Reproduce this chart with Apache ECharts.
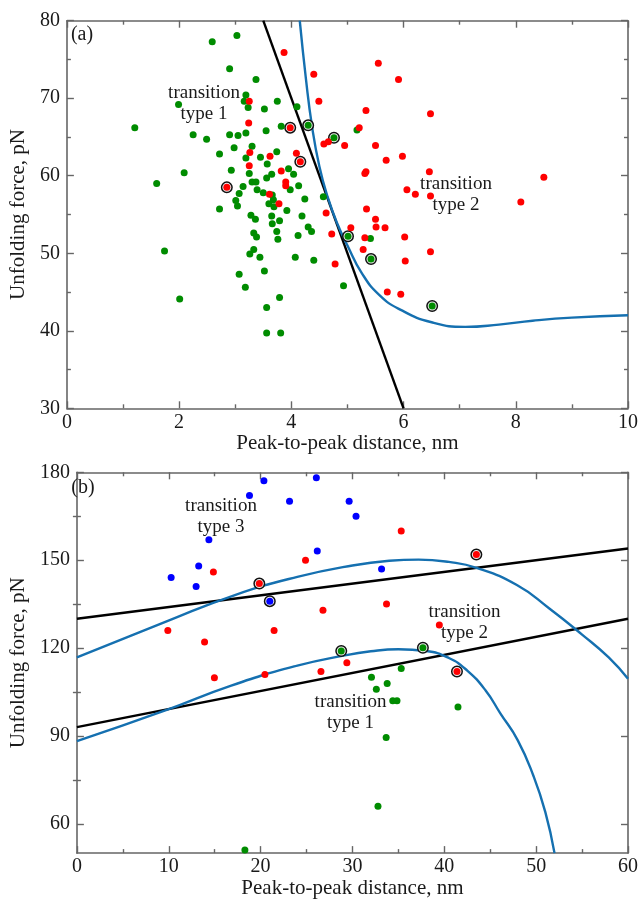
<!DOCTYPE html>
<html><head><meta charset="utf-8">
<script src="https://cdn.jsdelivr.net/npm/echarts@6/dist/echarts.min.js"></script>
<style>html,body{margin:0;padding:0;background:#fff}#c{width:641px;height:900px}</style>
</head><body><div id="c"></div>
<script>
// ---------- Panel (a) data ----------
const aXTicks = [0, 2, 4, 6, 8, 10];
const aYTicks = [30, 40, 50, 60, 70, 80];
const aGreen = [[1.21,66.2],[1.60,59.0],[1.74,50.3],[2.01,44.1],[1.99,69.2],[2.59,77.3],[3.03,78.1],[2.90,73.8],[3.37,72.4],[3.19,70.4],[3.16,69.6],[3.23,68.8],[3.52,68.6],[3.75,69.6],[4.10,68.9],[3.82,66.4],[2.25,65.3],[2.49,64.7],[2.90,65.3],[3.05,65.2],[3.19,65.5],[3.55,65.8],[2.98,63.6],[3.30,63.8],[2.72,62.8],[3.74,63.1],[3.45,62.4],[3.19,62.3],[3.57,61.5],[2.93,60.7],[3.25,60.3],[3.65,60.2],[3.56,59.7],[3.95,60.9],[4.04,60.2],[2.09,60.4],[3.14,58.6],[3.07,57.7],[3.30,59.2],[3.37,59.2],[3.39,58.2],[3.50,57.8],[3.66,57.5],[3.68,56.9],[3.60,56.4],[3.69,56.0],[3.98,58.2],[4.13,58.7],[4.24,57.0],[4.57,57.3],[3.92,55.5],[3.01,56.8],[3.04,56.1],[2.72,55.7],[3.28,54.9],[3.36,54.4],[3.65,54.8],[3.79,54.2],[3.66,53.8],[4.19,54.8],[4.30,53.4],[4.36,52.8],[3.33,52.6],[3.38,52.1],[3.74,52.8],[3.76,51.8],[4.12,52.3],[3.33,50.5],[3.26,49.9],[3.44,49.5],[4.07,49.5],[4.40,49.1],[3.52,47.7],[3.07,47.3],[3.18,45.6],[3.79,44.3],[3.56,43.0],[3.56,39.7],[3.81,39.7],[4.93,45.8],[5.17,65.9],[5.41,51.9]];
const aGreenCircled = [[4.30,66.5],[4.76,64.9],[5.01,52.2],[5.42,49.25],[6.51,43.2]];
const aRed = [[3.87,75.9],[4.40,73.1],[5.55,74.5],[5.91,72.4],[4.49,69.6],[5.33,68.4],[6.48,68.0],[3.25,69.6],[3.24,66.8],[5.21,66.2],[4.58,64.1],[4.66,64.4],[4.95,63.9],[5.50,63.9],[5.69,62.0],[5.98,62.5],[3.26,63.0],[3.25,61.3],[3.62,62.5],[4.09,62.9],[3.82,60.6],[3.90,59.2],[3.90,58.7],[3.61,57.6],[3.78,56.4],[5.33,60.5],[5.31,60.3],[6.46,60.5],[6.06,58.2],[6.21,57.6],[6.48,57.4],[8.50,59.8],[8.09,56.6],[4.62,55.2],[5.34,55.7],[5.50,54.4],[5.51,53.4],[5.67,53.3],[5.06,53.3],[4.72,52.5],[5.31,52.0],[6.02,52.1],[5.28,50.5],[6.48,50.2],[6.03,49.0],[4.78,48.6],[5.71,45.0],[5.95,44.7]];
const aRedCircled = [[3.98,66.2],[4.16,61.8],[2.85,58.5]];
const aBlackLine = [[3.5,80],[6.0,30]];
const aBlueCurve = [[4.15,80],[4.26,72.5],[4.37,66.3],[4.5,61.2],[4.65,57.2],[4.82,53.8],[5.0,51.0],[5.25,47.5],[5.57,44.6],[5.95,42.7],[6.5,41.1],[7.1,40.5],[7.7,40.8],[8.3,41.3],[9.0,41.7],[10,42.0]];

// ---------- Panel (b) data ----------
const bXTicks = [0, 10, 20, 30, 40, 50, 60];
const bYTicks = [60, 90, 120, 150, 180];
const bYMinorTicks = [75, 105, 135, 165];
const bBlue = [[20.36,177.1],[26.07,178.1],[18.79,172.1],[23.15,170.1],[29.64,170.1],[30.39,165.0],[14.37,157.0],[26.17,153.1],[13.26,148.0],[10.26,144.1],[12.98,141.0],[33.17,147.0]];
const bBlueCircled = [[21.0,136.0]];
const bRed = [[24.89,150.0],[14.86,146.0],[26.79,132.9],[9.90,126.0],[21.47,126.0],[13.9,122.1],[35.31,160.0],[33.71,135.0],[39.46,127.9],[29.39,115.0],[14.97,109.9],[20.47,111.0],[26.57,112.0]];
const bRedCircled = [[19.86,142.0],[43.49,151.9],[41.38,112.0]];
const bGreen = [[35.31,113.0],[32.07,110.0],[32.6,105.9],[33.78,107.9],[34.39,102.0],[34.85,102.0],[41.49,99.9],[33.67,89.5],[32.78,66.0],[18.29,51.1]];
const bGreenCircled = [[28.78,119.0],[37.67,120.1]];
const bBlackUpper = [[0,130],[60,154]];
const bBlackLower = [[0,93],[60,130]];
const bBlueUpper = [[0,116.8],[9.7,129.0],[17.2,138.1],[24,144.3],[30,148.2],[34,149.8],[37.2,150.2],[40.5,149.4],[43.5,147.4],[47.9,141.5],[51.4,133.6],[55.0,124.6],[57.9,116.8],[60,109.5]];
const bBlueLower = [[0,88.2],[9.7,98.8],[16.8,107.2],[24.0,114.0],[29,117.4],[32,118.9],[35,119.6],[38,119.0],[40.5,116.6],[42.5,112.3],[44.5,105.5],[46.1,97.7],[48,88.5],[49.7,76.4],[51,64],[52.0,50.0]];

// ---------- styling ----------
const FONT = '"Liberation Serif", "DejaVu Serif", serif';
const AXC = '#666';
const GREEN = '#008c00', RED = '#ff0000', BLUE = '#0000ff', CURVE = '#1570b0';

function baseAxis(extra) {
  return Object.assign({
    type: 'value',
    splitLine: { show: false },
    minorSplitLine: { show: false },
    axisLine: { show: true, onZero: false, lineStyle: { color: AXC, width: 1.6 } },
    axisTick: { show: true, inside: true, length: 7, lineStyle: { color: AXC, width: 1.4 } },
    minorTick: { show: true, splitNumber: 2, length: 4, lineStyle: { color: AXC, width: 1.4 } },
    axisLabel: { show: false, color: '#1a1a1a', fontFamily: FONT, fontSize: 20 },
    nameTextStyle: { color: '#1a1a1a', fontFamily: FONT, fontSize: 21 }
  }, extra);
}

const xAxes = [
  baseAxis({ gridIndex: 0, position: 'bottom', min: aXTicks[0], max: aXTicks[aXTicks.length-1], interval: 2,
    axisLabel: { show: true, color: '#1a1a1a', fontFamily: FONT, fontSize: 20, margin: 4 },
    name: 'Peak-to-peak distance, nm', nameLocation: 'middle', nameGap: 19 }),
  baseAxis({ gridIndex: 0, position: 'top', min: aXTicks[0], max: aXTicks[aXTicks.length-1], interval: 2 }),
  baseAxis({ gridIndex: 1, position: 'bottom', min: bXTicks[0], max: bXTicks[bXTicks.length-1], interval: 10,
    axisLabel: { show: true, color: '#1a1a1a', fontFamily: FONT, fontSize: 20, margin: 4 },
    name: 'Peak-to-peak distance, nm', nameLocation: 'middle', nameGap: 20 }),
  baseAxis({ gridIndex: 1, position: 'top', min: bXTicks[0], max: bXTicks[bXTicks.length-1], interval: 10 })
];

const yAxes = [
  baseAxis({ gridIndex: 0, position: 'left', min: aYTicks[0], max: aYTicks[aYTicks.length-1], interval: 10,
    axisLabel: { show: true, color: '#1a1a1a', fontFamily: FONT, fontSize: 20, margin: 7 },
    name: 'Unfolding force, pN', nameLocation: 'middle', nameGap: 22, nameRotate: 90 }),
  baseAxis({ gridIndex: 0, position: 'right', min: aYTicks[0], max: aYTicks[aYTicks.length-1], interval: 10 }),
  baseAxis({ gridIndex: 1, position: 'left', min: 50, max: 180,
    minorTick: { show: false },
    axisTick: { show: true, inside: true, length: 7, customValues: bYTicks, lineStyle: { color: AXC, width: 1.4 } },
    axisLabel: { show: true, customValues: bYTicks, color: '#1a1a1a', fontFamily: FONT, fontSize: 20, margin: 7 },
    name: 'Unfolding force, pN', nameLocation: 'middle', nameGap: 26, nameRotate: 90 }),
  baseAxis({ gridIndex: 1, position: 'right', min: 50, max: 180,
    minorTick: { show: false },
    axisTick: { show: true, inside: true, length: 7, customValues: bYTicks, lineStyle: { color: AXC, width: 1.4 } } }),
  baseAxis({ gridIndex: 1, position: 'left', min: 50, max: 180, axisLine: { show: false },
    minorTick: { show: false },
    axisTick: { show: true, inside: true, length: 4, customValues: bYMinorTicks, lineStyle: { color: AXC, width: 1.4 } } }),
  baseAxis({ gridIndex: 1, position: 'right', min: 50, max: 180, axisLine: { show: false },
    minorTick: { show: false },
    axisTick: { show: true, inside: true, length: 4, customValues: bYMinorTicks, lineStyle: { color: AXC, width: 1.4 } } })
];

function lineS(data, color, xi, yi, smooth) {
  return { type: 'line', data, xAxisIndex: xi, yAxisIndex: yi, showSymbol: false,
    smooth: smooth || false,
    lineStyle: { color, width: 2.4 }, silent: true, z: 2 };
}
function dots(data, color, xi, yi) {
  return { type: 'scatter', data, xAxisIndex: xi, yAxisIndex: yi, symbol: 'circle', symbolSize: 7,
    itemStyle: { color, opacity: 1 }, z: 4 };
}
function rings(data, xi, yi) {
  return { type: 'scatter', data, xAxisIndex: xi, yAxisIndex: yi, symbol: 'circle', symbolSize: 10.5,
    itemStyle: { color: '#eeeeee', borderColor: '#111', borderWidth: 1.5, opacity: 1 }, z: 3 };
}

const series = [
  lineS(aBlackLine, '#000', 0, 0),
  lineS(aBlueCurve, CURVE, 0, 0, 0.5),
  dots(aGreen, GREEN, 0, 0),
  dots(aRed, RED, 0, 0),
  rings(aGreenCircled, 0, 0),
  rings(aRedCircled, 0, 0),
  dots(aGreenCircled, GREEN, 0, 0),
  dots(aRedCircled, RED, 0, 0),

  lineS(bBlackUpper, '#000', 2, 2),
  lineS(bBlackLower, '#000', 2, 2),
  lineS(bBlueUpper, CURVE, 2, 2, 0.5),
  lineS(bBlueLower, CURVE, 2, 2, 0.5),
  dots(bBlue, BLUE, 2, 2),
  dots(bRed, RED, 2, 2),
  dots(bGreen, GREEN, 2, 2),
  rings(bBlueCircled, 2, 2),
  rings(bRedCircled, 2, 2),
  rings(bGreenCircled, 2, 2),
  dots(bBlueCircled, BLUE, 2, 2),
  dots(bRedCircled, RED, 2, 2),
  dots(bGreenCircled, GREEN, 2, 2)
];

function label(text, x, y, size) {
  return { type: 'text', x, y, z: 10, silent: true,
    style: { text, textAlign: 'center', textVerticalAlign: 'middle', fill: '#1a1a1a',
      font: (size || 19) + 'px ' + FONT, lineHeight: 21 } };
}

const chart = echarts.init(document.getElementById('c'), null, { renderer: 'canvas' });
chart.setOption({
  animation: false,
  backgroundColor: '#fff',
  grid: [
    { left: 66, top: 20.7, width: 564, height: 387.6, containLabel: false },
    { left: 69.5, top: 472.3, width: 560.5, height: 386, containLabel: false }
  ],
  xAxis: xAxes,
  yAxis: yAxes,
  series,
  graphic: [
    label('(a)', 82, 35, 20),
    label('transition\ntype 1', 204, 103.5),
    label('transition\ntype 2', 456, 195),
    label('(b)', 83, 487.5, 20),
    label('transition\ntype 3', 221, 516.5),
    label('transition\ntype 2', 464.5, 622.7),
    label('transition\ntype 1', 350.5, 712.8)
  ]
});
</script></body></html>
